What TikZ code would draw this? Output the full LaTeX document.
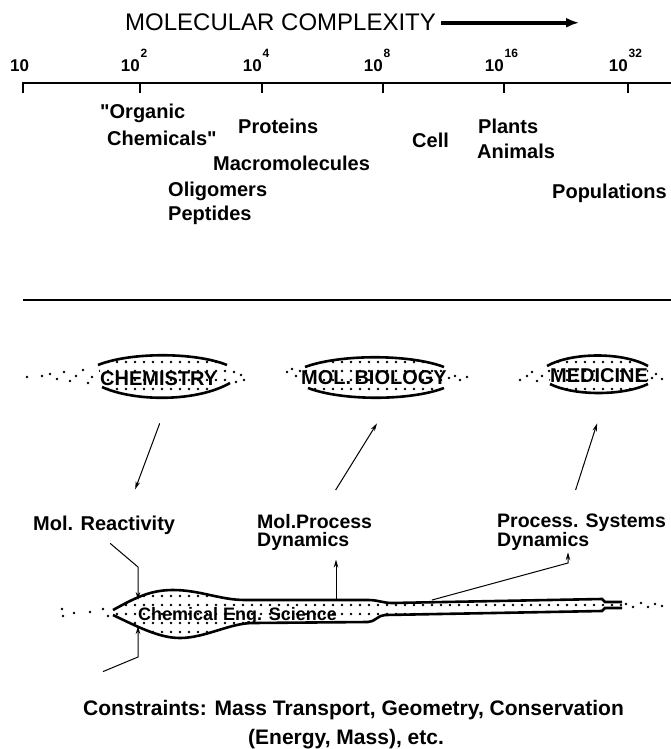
\documentclass[tikz,border=0pt]{standalone}
\usepackage{fontspec}
\setmainfont{Liberation Sans}
\usetikzlibrary{arrows.meta,patterns.meta}

\begin{document}
\begin{tikzpicture}[x=1pt, y=-1pt, >={Stealth[length=8pt,width=4.5pt]},
    txt/.style={inner sep=0pt, anchor=base west, font=\fontsize{20}{17}\selectfont\bfseries},
    two/.style={txt, anchor=north west, align=left, font=\fontsize{19.5}{18}\selectfont\bfseries},
    num/.style={inner sep=0pt, anchor=base east, font=\fontsize{17}{17}\selectfont\bfseries},
    expo/.style={inner sep=0pt, anchor=south west, font=\fontsize{12}{12}\selectfont\bfseries},
    axisline/.style={line width=2.2pt},
    lensarc/.style={line width=2.6pt},
    lenstxt/.style={inner sep=0pt, anchor=base west, font=\fontsize{20}{20}\selectfont\bfseries},
    dotfill/.style={pattern={Dots[radius=1.3pt, distance=9pt]}},
    arr/.style={->, line width=1pt},
]
  \useasboundingbox (0,0) rectangle (671,749);

  % === Title and scale ===
  \node[inner sep=0pt, anchor=base west, font=\fontsize{24}{24}\selectfont] (title) at (125,31) {MOLECULAR COMPLEXITY};
  \draw[line width=4pt, -{Latex[length=13pt,width=10pt]}] ([xshift=5pt]title.east) -- ++(138,0);

  \node[num, anchor=base west] (t0) at (10,72) {10};
  \foreach \x/\e [count=\i] in {140/2, 262/4, 383/8, 504/16, 628/32} {
    \node[num] (t\i) at (\x,72) {10};
    \node[expo] at ([shift={(0.5,-2)}]t\i.north east) {\e};
    \draw[axisline, line width=1.6pt] (\x,83) -- (\x,93);
  }
  \draw[axisline] (23,93) -- (23,83) -- (671,83);

  % === Objects along the scale ===
  \node[txt] (organic) at (100,119) {\textquotedbl Organic};
  \node[txt] (chemicals) at (107,145) {Chemicals\textquotedbl};
  \node[txt] (proteins) at (238,133) {Proteins};
  \node[txt] (macro) at (213,170) {Macromolecules};
  \node[txt] (oligo) at (168,196) {Oligomers};
  \node[txt] (pept) at (168,220) {Peptides};
  \node[txt] (cell) at (412,147) {Cell};
  \node[txt] (plants) at (478,133) {Plants};
  \node[txt] (animals) at (477,158) {Animals};
  \node[txt] (popul) at (552,198) {Populations};

  \draw[line width=2.6pt] (23,300) -- (671,300);

  % === Disciplines ===
  \fill[dotfill] (98,365) .. controls (130,352) and (195,352) .. (227,365) -- (230,383)
    .. controls (197,402) and (135,402) .. (102,387) -- cycle;
  \draw[lensarc] (98,365) .. controls (130,352) and (195,352) .. (227,365);
  \draw[lensarc] (102,387) .. controls (135,402) and (197,402) .. (230,383);
  \node[lenstxt] (chem) at (100,385) {CHEMISTRY};

  \fill[dotfill] (305,367) .. controls (340,354) and (410,354) .. (444,367) -- (444,388)
    .. controls (410,401) and (342,401) .. (308,388) -- cycle;
  \draw[lensarc] (305,367) .. controls (340,354) and (410,354) .. (444,367);
  \draw[lensarc] (308,388) .. controls (342,401) and (410,401) .. (444,388);
  \node[lenstxt] (molbio) at (301,384) {MOL.\,BIOLOGY};

  \fill[dotfill] (547,366) .. controls (572,352) and (623,352) .. (648,366) -- (648,384)
    .. controls (623,396) and (574,396) .. (550,384) -- cycle;
  \draw[lensarc] (547,366) .. controls (572,352) and (623,352) .. (648,366);
  \draw[lensarc] (550,384) .. controls (574,396) and (623,396) .. (648,384);
  \node[lenstxt] (med) at (550,382) {MEDICINE};

  % scattered dots leading in and out
  \foreach \p in {(27,377),(42,376),(50,374),(57,379),(64,372),(70,381),(76,376),(83,370),(88,383),(92,377),
      (234,372),(236,382),(241,375),(244,380),(287,372),(292,369),(296,376),(300,371),
      (449,378),(455,376),(460,380),(467,377),(520,380),(527,376),(532,372),(537,381),(542,376),
      (652,378),(656,374),(662,379)}
    \fill \p circle (1.3pt);

  % === Levels of description ===
  \node[txt] (reac) at (33,530) {Mol. Reactivity};
  \node[two] (proc) at (257,514) {Mol.Process\\Dynamics};
  \node[two] (syst) at (497,514) {Process. Systems\\Dynamics};

  \draw[arr] ([shift={(1,38)}]chem.south) -- ([shift={(31,-26)}]reac.north);
  \draw[arr] ([shift={(21,-24)}]proc.north) -- ([shift={(3,39)}]molbio.south);
  \draw[arr] ([shift={(-6,-24)}]syst.north) -- ([shift={(-2,41)}]med.south);

  % === Chemical engineering science ===
  \fill[dotfill] (113,610) .. controls (135,598) and (150,590) .. (173,590)
    .. controls (200,590) and (220,600) .. (245,600) -- (368,600)
    .. controls (378,600) and (383,603) .. (392,603) -- (602,599) -- (605,602) -- (622,602)
    -- (622,608) -- (605,608) -- (602,611) -- (385,615)
    .. controls (378,615) and (375,622) .. (368,622) -- (253,623)
    .. controls (230,623) and (205,638) .. (180,638)
    .. controls (160,638) and (140,628) .. (113,615) -- cycle;
  \draw[lensarc] (113,610) .. controls (135,598) and (150,590) .. (173,590)
    .. controls (200,590) and (220,600) .. (245,600) -- (368,600)
    .. controls (378,600) and (383,603) .. (392,603) -- (602,599) -- (605,602) -- (622,602);
  \draw[lensarc] (113,615) .. controls (140,628) and (160,638) .. (180,638)
    .. controls (205,638) and (230,623) .. (253,623) -- (368,622)
    .. controls (375,622) and (378,615) .. (385,615) -- (602,611) -- (605,608) -- (622,608);
  \node[txt, font=\fontsize{18}{18}\selectfont\bfseries] (ces) at (138,620) {Chemical Eng. Science};

  \foreach \p in {(62,609),(63,616),(74,613),(90,612),(103,609),(108,616),
      (626,604),(633,607),(641,603),(648,607),(655,604),(662,606)}
    \fill \p circle (1.3pt);

  \node[txt, font=\fontsize{21}{21}\selectfont\bfseries] (cons) at (83,715) {Constraints: Mass Transport, Geometry, Conservation};
  \node[txt, font=\fontsize{21}{21}\selectfont\bfseries] (cons2) at (248,744) {(Energy, Mass), etc.};

  \coordinate (ca) at (138,600);
  \coordinate (cb) at (138,626);
  \coordinate (cc) at (336,600);
  \coordinate (cd) at (432,600);
  \coordinate (k1) at (138,567);
  \coordinate (k2) at (138,657);
  \coordinate (k3) at (568,563);

  \draw[arr] ([shift={(6,9)}]reac.south) -- (k1) -- (ca);
  \draw[arr] ([shift={(20,-28)}]cons.north west) -- (k2) -- (cb);
  \draw[arr, shorten >=9pt] (cc) -- (cc |- proc.south);
  \draw[arr, shorten >=1pt] (cd) -- (k3) -- (k3 |- syst.south);
\end{tikzpicture}
\end{document}
